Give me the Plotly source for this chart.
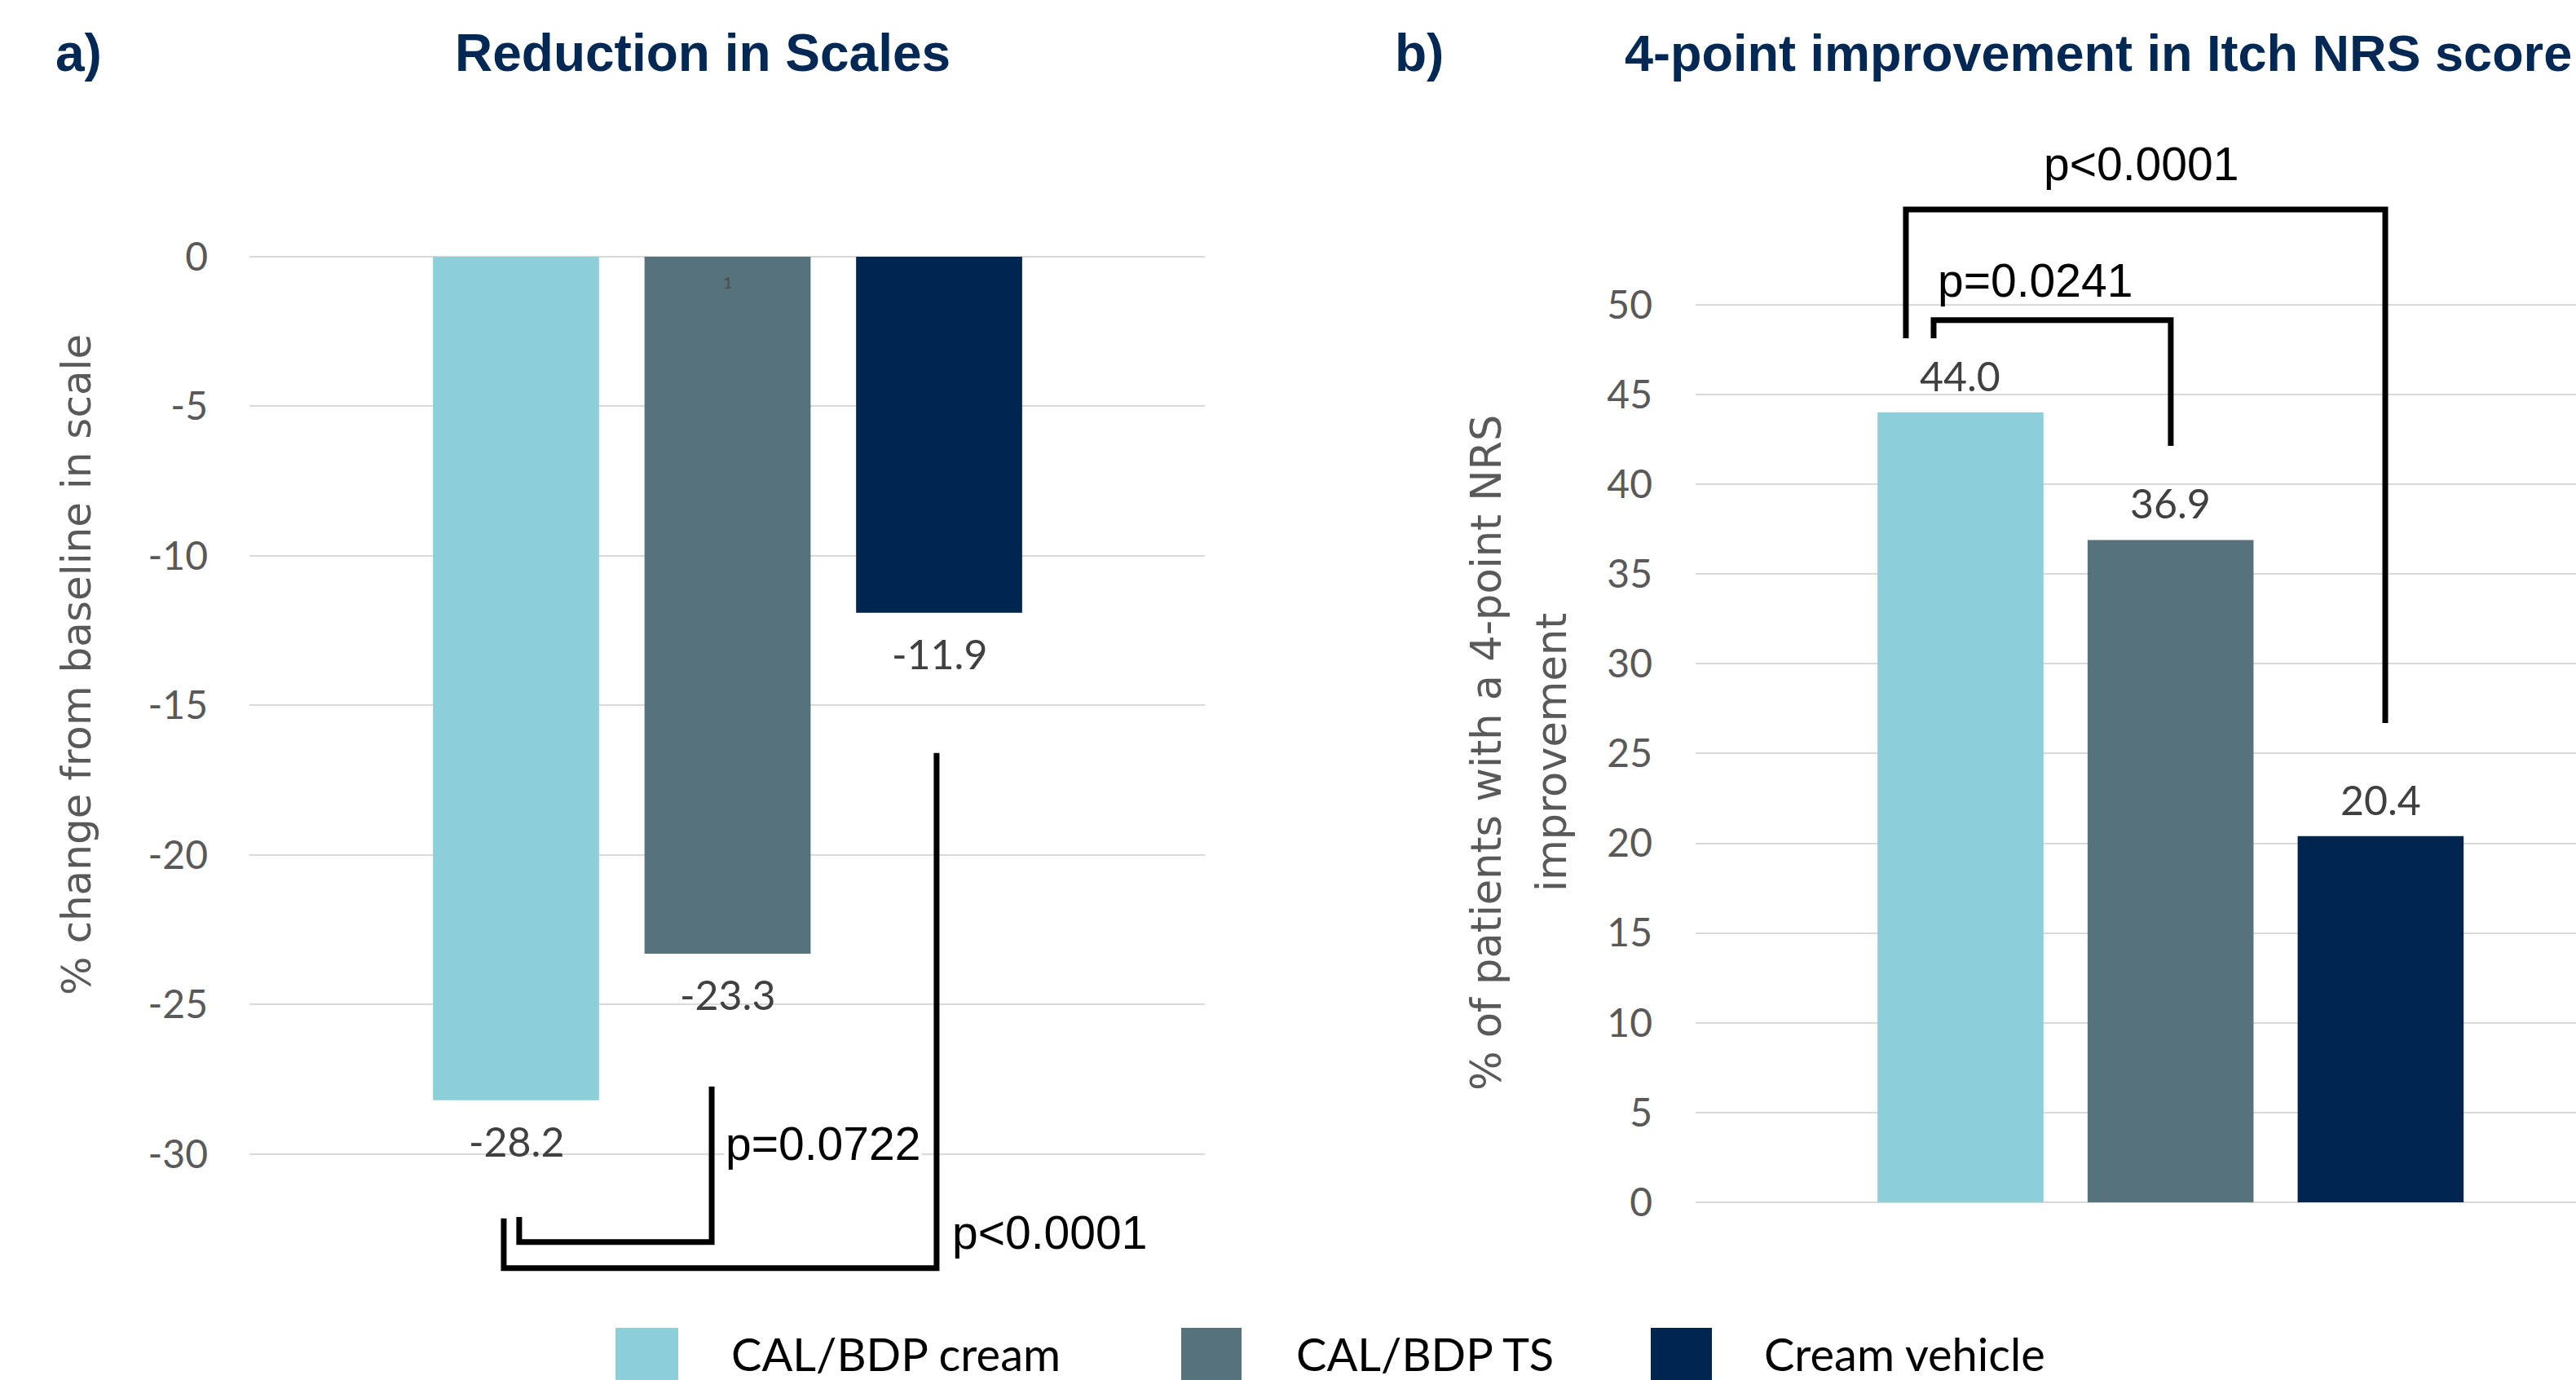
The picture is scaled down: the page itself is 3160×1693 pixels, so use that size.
import plotly.graph_objects as go

# ---------------- data ----------------
categories = ["CAL/BDP cream", "CAL/BDP TS", "Cream vehicle"]
bar_colors = ["#8DCFD8", "#56737C", "#00264F"]
scale_change = [-28.2, -23.3, -11.9]          # panel a: % change from baseline
nrs_improvement = [44.0, 36.9, 20.4]          # panel b: % patients with 4-pt NRS improvement
ticks_a = [0, -5, -10, -15, -20, -25, -30]
ticks_b = [0, 5, 10, 15, 20, 25, 30, 35, 40, 45, 50]
pvals_a = ["p=0.0722", "p<0.0001"]
pvals_b = ["p=0.0241", "p<0.0001"]

W, H = 3160, 1693
def px(x):
    return x / W
def py(y):
    return 1 - y / H

xpos = list(range(len(categories)))

TICK_FONT = dict(family="Lato, Liberation Sans", size=48, color="#595959")
LABEL_FONT = dict(family="Lato, Liberation Sans", size=50, color="#404040")
P_FONT = dict(family="Liberation Sans, Arial", size=57, color="#000000")
AX_FONT_A = dict(family="DejaVu Sans", size=50, color="#595959")
AX_FONT_B = dict(family="DejaVu Sans", size=51, color="#595959")
TITLE_FONT = dict(family="Liberation Sans, Arial", size=64, color="#002855")
TITLE_FONT_B = dict(family="Liberation Sans, Arial", size=63, color="#002855")
LEG_FONT = dict(family="Lato, Liberation Sans", size=56, color="#000000")

fig = go.Figure()
fig.add_trace(go.Bar(x=xpos, y=scale_change, marker=dict(color=bar_colors, line=dict(width=0)),
                     width=0.785, xaxis="x", yaxis="y", showlegend=False, hoverinfo="skip"))
fig.add_trace(go.Bar(x=xpos, y=nrs_improvement, marker=dict(color=bar_colors, line=dict(width=0)),
                     width=0.79, xaxis="x2", yaxis="y2", showlegend=False, hoverinfo="skip"))

ann = []
# data labels
for i, v in enumerate(scale_change):
    ann.append(dict(x=xpos[i], y=v, xref="x", yref="y", text=f"{v:.1f}", showarrow=False,
                    yshift=-50, yanchor="middle", xanchor="center", font=LABEL_FONT))
for i, v in enumerate(nrs_improvement):
    ann.append(dict(x=xpos[i], y=v, xref="x2", yref="y2", text=f"{v:.1f}", showarrow=False,
                    yshift=45, yanchor="middle", xanchor="center", font=LABEL_FONT))
# stray tiny label inside TS bar
ann.append(dict(x=xpos[1], y=0, xref="x", yref="y", text="1", showarrow=False, yshift=-31,
                yanchor="middle", font=dict(family="Lato", size=20, color="#4A4A4A")))

# titles
ann += [
    dict(x=px(66), y=py(65), xref="paper", yref="paper", text="<b>a)</b>", showarrow=False,
         xanchor="left", yanchor="middle", font=TITLE_FONT),
    dict(x=px(862), y=py(65), xref="paper", yref="paper", text="<b>Reduction in Scales</b>",
         showarrow=False, xanchor="center", yanchor="middle", font=TITLE_FONT),
    dict(x=px(1709), y=py(65), xref="paper", yref="paper", text="<b>b)</b>", showarrow=False,
         xanchor="left", yanchor="middle", font=TITLE_FONT),
    dict(x=px(1991), y=py(65), xref="paper", yref="paper",
         text="<b>4-point improvement in Itch NRS score</b>", showarrow=False,
         xanchor="left", yanchor="middle", font=TITLE_FONT_B),
]
# axis titles
ann += [
    dict(x=px(94), y=py(816), xref="paper", yref="paper", text="% change from baseline in scale",
         textangle=-90, showarrow=False, xanchor="center", yanchor="middle", font=AX_FONT_A),
    dict(x=px(1824), y=py(924), xref="paper", yref="paper", text="% of patients with a 4-point NRS",
         textangle=-90, showarrow=False, xanchor="center", yanchor="middle", font=AX_FONT_B),
    dict(x=px(1903), y=py(923), xref="paper", yref="paper", text="improvement",
         textangle=-90, showarrow=False, xanchor="center", yanchor="middle", font=AX_FONT_B),
]
# p-values
ann += [
    dict(x=px(888), y=py(1403), xref="paper", yref="paper", text=pvals_a[0], showarrow=False,
         xanchor="left", yanchor="middle", font=P_FONT, bgcolor="white"),
    dict(x=px(1166), y=py(1512), xref="paper", yref="paper", text=pvals_a[1], showarrow=False,
         xanchor="left", yanchor="middle", font=P_FONT),
    dict(x=px(2375), y=py(344), xref="paper", yref="paper", text=pvals_b[0], showarrow=False,
         xanchor="left", yanchor="middle", font=P_FONT),
    dict(x=px(2626), y=py(201), xref="paper", yref="paper", text=pvals_b[1], showarrow=False,
         xanchor="center", yanchor="middle", font=P_FONT),
]

shapes = []
LINE = dict(color="black", width=7)
# panel a brackets (data coords)
shapes.append(dict(type="path", xref="x", yref="y", layer="above", line=LINE,
                   path="M 0.015,-32.10 L 0.015,-32.94 L 0.925,-32.94 L 0.925,-27.74"))
shapes.append(dict(type="path", xref="x", yref="y", layer="above", line=LINE,
                   path="M -0.058,-32.15 L -0.058,-33.81 L 1.988,-33.81 L 1.988,-16.59"))
# panel b brackets
shapes.append(dict(type="path", xref="x2", yref="y2", layer="above", line=LINE,
                   path="M -0.128,48.14 L -0.128,49.14 L 1.001,49.14 L 1.001,42.14"))
shapes.append(dict(type="path", xref="x2", yref="y2", layer="above", line=LINE,
                   path="M -0.260,48.14 L -0.260,55.31 L 2.022,55.31 L 2.022,26.70"))

# legend
sw_x = [(755, 832), (1449, 1523), (2025, 2100)]
txt_x = [895, 1588, 2162]
for (x0, x1), tx, name, col in zip(sw_x, txt_x, categories, bar_colors):
    shapes.append(dict(type="rect", xref="paper", yref="paper", x0=px(x0), x1=px(x1),
                       y0=py(1710), y1=py(1629), fillcolor=col, line=dict(width=0)))
    ann.append(dict(x=px(tx), y=py(1660), xref="paper", yref="paper", text=name, showarrow=False,
                    xanchor="left", yanchor="middle", font=LEG_FONT))

fig.update_layout(
    template="none",
    width=W, height=H, autosize=False,
    margin=dict(l=0, r=0, t=0, b=0, pad=0),
    paper_bgcolor="white", plot_bgcolor="white",
    bargap=0.2,
    xaxis=dict(domain=[px(306), px(1478)], range=[-1.260, 3.256], visible=False,
               showgrid=False, zeroline=False, automargin=False, anchor="y"),
    yaxis=dict(domain=[0, 1], range=[-37.55, 8.58], anchor="x",
               tickvals=ticks_a, ticktext=[str(t) for t in ticks_a],
               showgrid=True, gridcolor="#D9D9D9", gridwidth=2, zeroline=False,
               showline=False, ticks="", tickfont=TICK_FONT, ticklabelstandoff=50,
               automargin=False),
    xaxis2=dict(domain=[px(2080), 1], range=[-1.261, 2.930], visible=False,
                showgrid=False, zeroline=False, automargin=False, anchor="y2"),
    yaxis2=dict(domain=[0, 1], range=[-9.90, 66.98], anchor="x2",
                tickvals=ticks_b, ticktext=[str(t) for t in ticks_b],
                showgrid=True, gridcolor="#D9D9D9", gridwidth=2, zeroline=False,
                showline=False, ticks="", tickfont=TICK_FONT, ticklabelstandoff=52,
                automargin=False),
    annotations=ann,
    shapes=shapes,
)

fig.write_html("out.html", config={"displayModeBar": False},
               post_script="document.body.style.margin='0';document.body.style.overflow='hidden';")
